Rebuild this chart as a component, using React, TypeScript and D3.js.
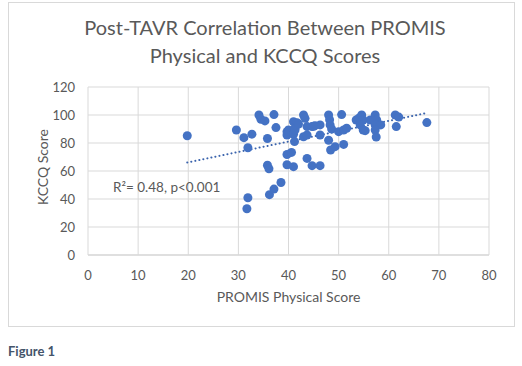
import React from "react";
import * as d3 from "d3";

// PROMIS physical score (x) and KCCQ score (y)
const promis = [
  19.8, 29.6, 31.1, 32.7, 31.9, 31.9, 31.7, 34.1, 34.5, 35.3,
  37.1, 37.5, 35.8, 35.8, 36.1, 36.2, 37.1, 38.5, 39.7, 40.0,
  39.7, 41.0, 41.7, 41.3, 41.0, 41.3, 41.2, 39.7, 40.6, 39.7,
  41.0, 43.0, 43.3, 43.7, 43.0, 43.7, 43.7, 44.7, 46.3, 44.7,
  45.3, 46.3, 46.3, 48.0, 48.2, 48.3, 48.6, 48.0, 48.4, 49.3,
  50.0, 50.6, 51.0, 51.6, 51.0, 53.5, 54.0, 54.6, 54.9, 54.3,
  54.9, 56.3, 57.3, 57.6, 57.3, 58.4, 57.3, 57.5, 61.3, 62.0,
  61.5, 67.6, 42.0, 45.0, 55.3,
];
const kccq = [
  85.2, 89.3, 83.8, 86.3, 76.6, 40.9, 33.0, 100.0, 97.0, 95.8,
  100.3, 91.0, 83.2, 64.1, 61.6, 43.1, 47.1, 51.8, 88.1, 89.3,
  85.7, 95.2, 94.5, 90.5, 86.2, 89.3, 81.0, 71.8, 73.3, 64.5,
  63.1, 100.0, 97.6, 91.7, 84.5, 85.7, 69.0, 63.8, 63.8, 91.7,
  92.4, 92.9, 85.7, 100.0, 96.6, 92.9, 90.0, 82.0, 75.0, 77.4,
  88.1, 100.3, 89.3, 90.5, 79.0, 96.4, 97.6, 100.0, 96.4, 92.9,
  89.3, 96.4, 100.0, 96.4, 92.9, 92.9, 89.3, 84.3, 100.0, 98.5,
  91.7, 94.6, 93.5, 92.0, 88.8,
];
const xTicks = [0, 10, 20, 30, 40, 50, 60, 70, 80];
const yTicks = [0, 20, 40, 60, 80, 100, 120];
const trendSlope = 0.74;
const trendIntercept = 51.4;

const titleLines = ["Post-TAVR Correlation Between PROMIS", "Physical and KCCQ Scores"];
const xTitle = "PROMIS Physical Score";
const yTitle = "KCCQ Score";
const note = "R²= 0.48, p<0.001";
const caption = "Figure 1";

const W = 522;
const H = 366;
const plot = { left: 88, right: 489, top: 87, bottom: 255 };
const font = "Lato, 'Open Sans', sans-serif";
const textColor = "#595959";
const dotColor = "#4472C4";

export default function App() {
  const x = d3.scaleLinear().domain([0, 80]).range([plot.left, plot.right]);
  const y = d3.scaleLinear().domain([0, 120]).range([plot.bottom, plot.top]);

  const points = promis.map((p, i) => ({ x: p, y: kccq[i] }));
  const [xMin, xMax] = d3.extent(promis) as [number, number];
  const trend = d3.line<number>()
    .x((d) => x(d))
    .y((d) => y(trendIntercept + trendSlope * d));

  return (
    <svg
      width={W}
      height={H}
      style={{ position: "absolute", left: 0, top: 0, background: "#fff" }}
      fontFamily={font}
    >
      <rect x={8.5} y={2.5} width={506} height={324} fill="#fff" stroke="#d9d9d9" />

      {/* title */}
      {titleLines.map((t, i) => (
        <text key={t} x={(W + 16) / 2 - 4} y={35 + i * 28} textAnchor="middle" fontSize={20} fill={textColor}>
          {t}
        </text>
      ))}

      {/* gridlines */}
      {yTicks.map((t) => (
        <line key={"gy" + t} x1={plot.left} x2={plot.right} y1={y(t)} y2={y(t)} stroke={t === 0 ? "#bfbfbf" : "#d9d9d9"} />
      ))}
      {xTicks.map((t) => (
        <line key={"gx" + t} x1={x(t)} x2={x(t)} y1={plot.top} y2={plot.bottom} stroke="#d9d9d9" />
      ))}

      {/* tick labels */}
      {yTicks.map((t) => (
        <text key={"ly" + t} x={plot.left - 13} y={y(t)} dy="0.35em" textAnchor="end" fontSize={13} fill={textColor}>
          {t}
        </text>
      ))}
      {xTicks.map((t) => (
        <text key={"lx" + t} x={x(t)} y={275} dy="0.35em" textAnchor="middle" fontSize={13} fill={textColor}>
          {t}
        </text>
      ))}

      {/* axis titles */}
      <text x={(plot.left + plot.right) / 2} y={297} dy="0.35em" textAnchor="middle" fontSize={14} fill={textColor}>
        {xTitle}
      </text>
      <text
        transform={`translate(43,${(plot.top + plot.bottom) / 2 - 4}) rotate(-90)`}
        dy="0.35em"
        textAnchor="middle"
        fontSize={14}
        fill={textColor}
      >
        {yTitle}
      </text>

      {/* trendline */}
      <path
        d={trend([xMin, xMax]) ?? ""}
        fill="none"
        stroke="#3B64AD"
        strokeWidth={2}
        strokeDasharray="0.1 4"
        strokeLinecap="round"
      />

      {/* points */}
      {points.map((d, i) => (
        <circle key={i} cx={x(d.x)} cy={y(d.y)} r={4.5} fill={dotColor} />
      ))}

      <text x={113} y={187} dy="0.35em" fontSize={13.5} fill={textColor}>
        {note}
      </text>

      <text x={8} y={351} dy="0.35em" fontSize={13} fontWeight="bold" fill="#44546A">
        {caption}
      </text>
    </svg>
  );
}
